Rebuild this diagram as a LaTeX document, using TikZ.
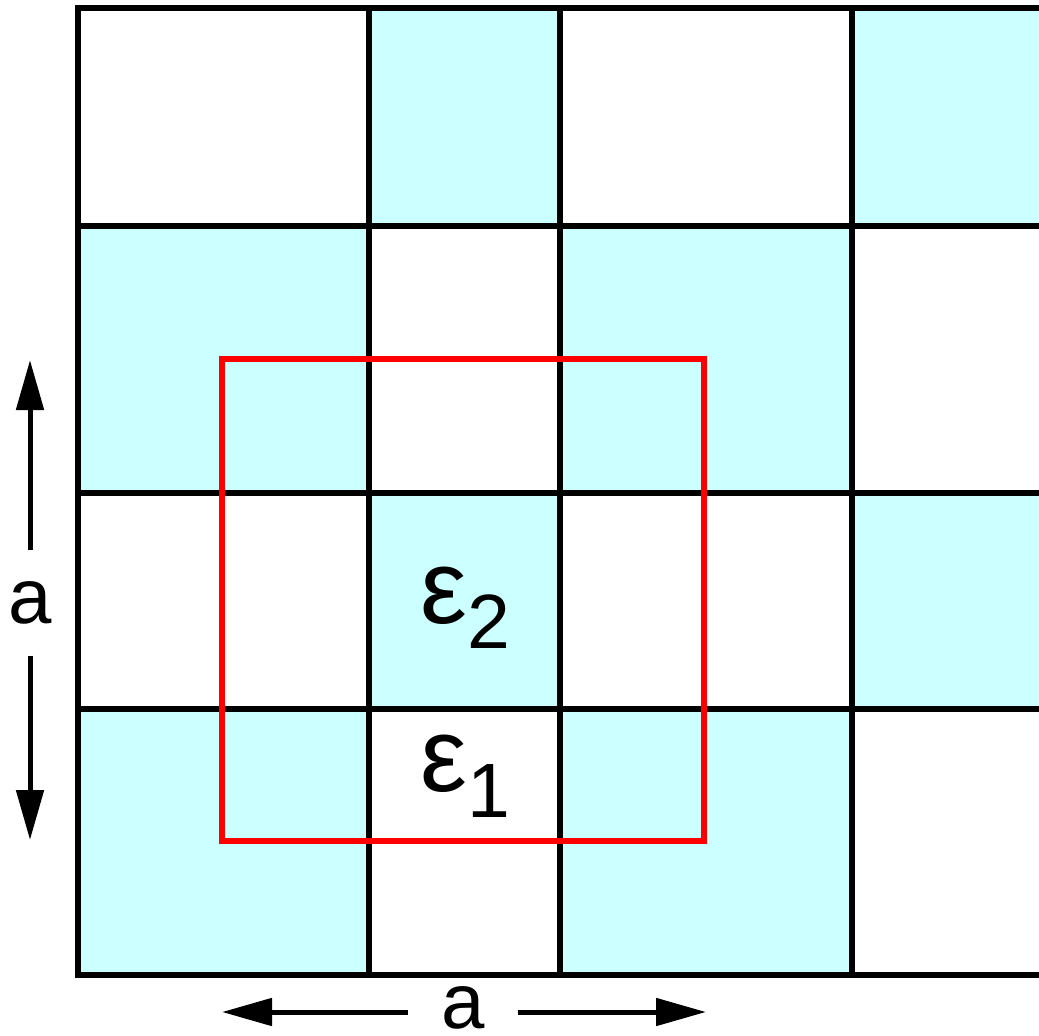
\documentclass[tikz,border=0pt]{standalone}
\usepackage{fontspec}
\setmainfont{Liberation Sans}
\usetikzlibrary{arrows.meta}
\definecolor{cellcyan}{HTML}{CCFFFF}
\begin{document}
\begin{tikzpicture}[x=1pt,y=-1pt,
  gridline/.style={line width=6.5pt,black,line cap=rect},
  cyancell/.style={fill=cellcyan},
  redbox/.style={line width=5.5pt,red},
  dimarrow/.style={line width=5pt,-{Triangle[length=50pt,width=27pt]}},
  dimlabel/.style={font=\fontsize{78}{78}\selectfont},
  epslabel/.style={font=\fontsize{105}{105}\selectfont,inner sep=0pt,anchor=base west}]
\useasboundingbox (0,0) rectangle (1039,1036);
\clip (0,0) rectangle (1039,1036);
% cyan cells
\fill[cyancell] (369,8) rectangle (560,226);
\fill[cyancell] (852,8) rectangle (1050,226);
\fill[cyancell] (78,226) rectangle (369,493);
\fill[cyancell] (560,226) rectangle (852,493);
\fill[cyancell] (369,493) rectangle (560,709);
\fill[cyancell] (852,493) rectangle (1050,709);
\fill[cyancell] (78,709) rectangle (369,975);
\fill[cyancell] (560,709) rectangle (852,975);
% grid
\foreach \x in {78,369,560,852} \draw[gridline] (\x,8) -- (\x,975);
\foreach \y in {8,226,493,709,975} \draw[gridline] (78,\y) -- (1050,\y);
% red box
\draw[redbox] (222,359) rectangle (704,841);
% labels
\node[epslabel] (eps2) at (420,623) {ε\raisebox{-25pt}{\fontsize{77}{77}\selectfont 2}};
\node[epslabel] (eps1) at (420,791) {ε\raisebox{-26pt}{\fontsize{77}{77}\selectfont 1}};
% dimension arrows
\coordinate (vtop) at (30,360);
\coordinate (vbot) at (30,840);
\node[dimlabel,inner xsep=0pt,inner ysep=31pt] (va) at (30,603) {a};
\draw[dimarrow] (va.north) -- (vtop);
\draw[dimarrow] (va.south) -- (vbot);
\coordinate (hleft) at (222,1012);
\coordinate (hright) at (706,1012);
\node[dimlabel,inner xsep=33pt,inner ysep=0pt] (ha) at (463,1008) {a};
\draw[dimarrow] (ha.west |- hleft) -- (hleft);
\draw[dimarrow] (ha.east |- hright) -- (hright);
\end{tikzpicture}
\end{document}
